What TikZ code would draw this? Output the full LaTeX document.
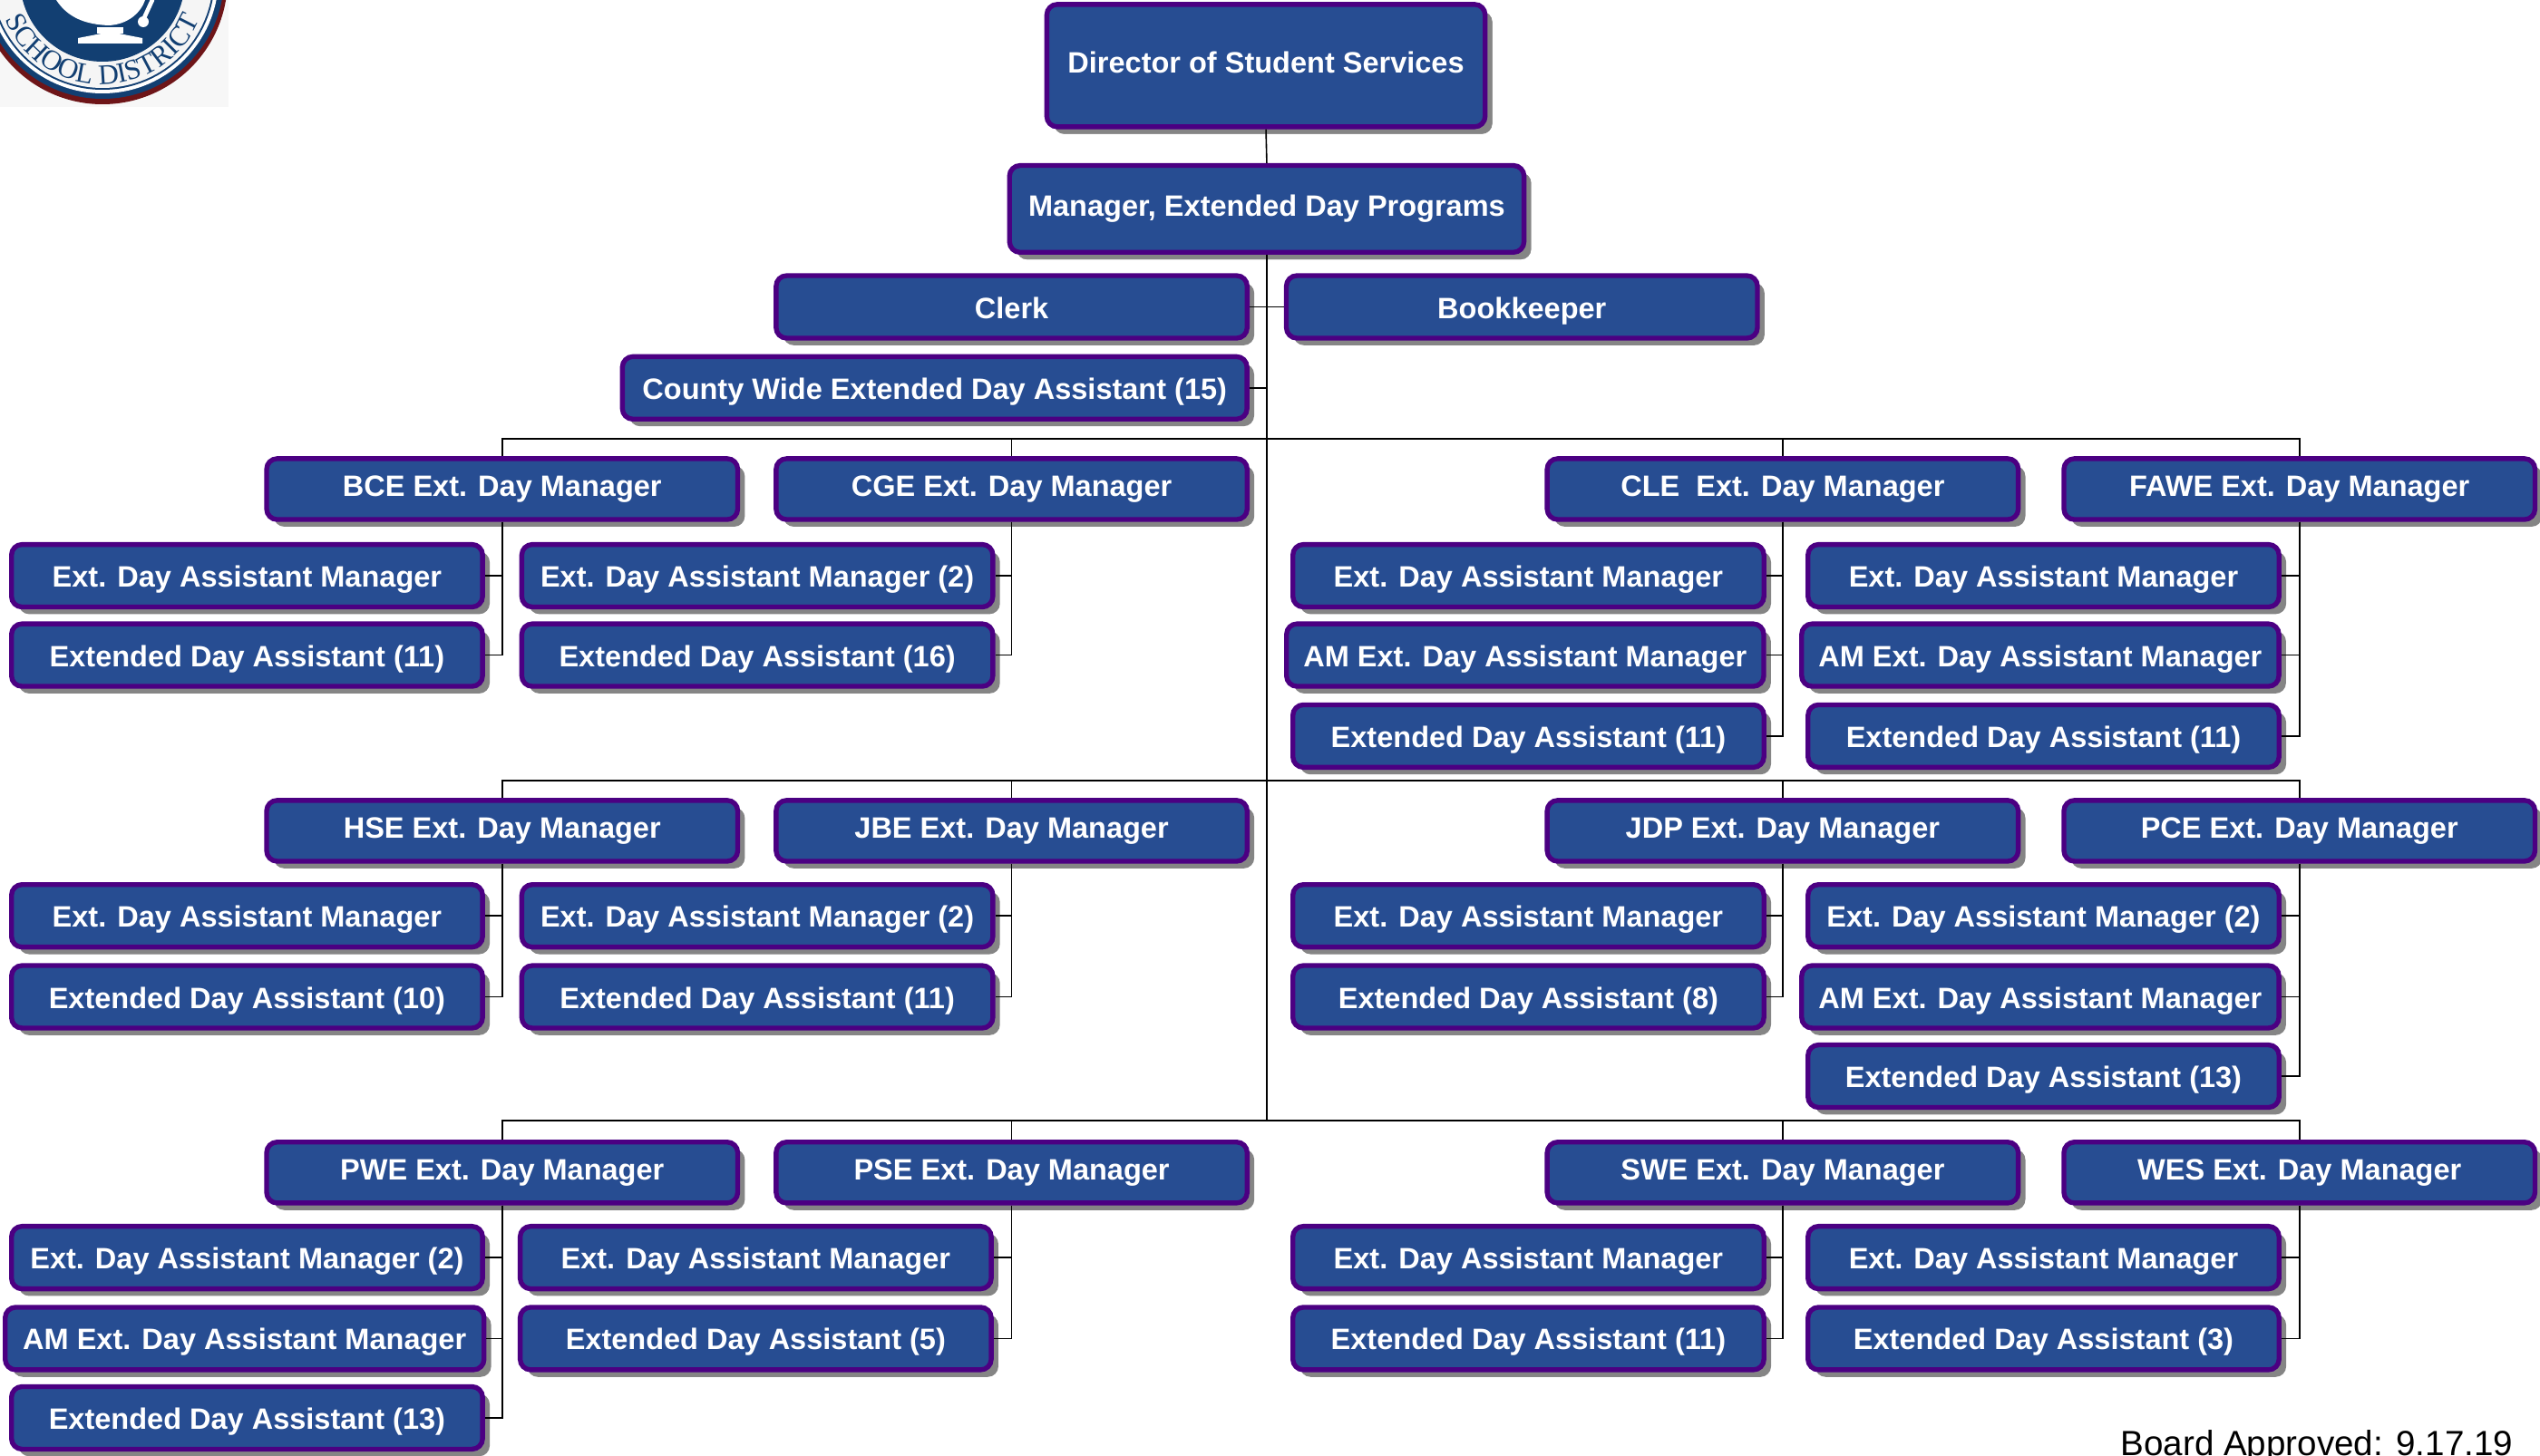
\documentclass[tikz,border=0pt]{standalone}
\usepackage{fontspec}
\setmainfont{Liberation Sans}
\newfontfamily\sealfont{Liberation Serif}
\usetikzlibrary{shadows,decorations.text}
\definecolor{boxfill}{HTML}{274D92}
\definecolor{boxline}{HTML}{4B0082}
\definecolor{boxshadow}{HTML}{858585}
\definecolor{sealblue}{HTML}{123F72}
\definecolor{sealred}{HTML}{6E1518}
\tikzset{
  orgbox/.style={draw=boxline,fill=boxfill,line width=3pt,rounded corners=6.5pt,
    text=white,font=\fontsize{18.2}{20}\selectfont\bfseries,inner sep=0pt,align=center,
    text height=14pt,text depth=0pt,
    drop shadow={shadow xshift=4.4pt,shadow yshift=-4.4pt,fill=boxshadow,opacity=1}},
  wide/.style={orgbox,minimum width=290.8pt,minimum height=38.6pt},
  mgrbox/.style={orgbox,minimum width=290.8pt,minimum height=37.6pt,text height=13pt,text depth=4pt},
  tallbox/.style={orgbox,text height=13pt,text depth=4pt},
  conn/.style={draw=black,line width=0.9pt},
}
\begin{document}
\begin{tikzpicture}[x=1pt,y=-1pt]
\useasboundingbox (0,0) rectangle (1568,899);
% seal
\begin{scope}
\clip (0,0) rectangle (1568,899);
\fill[black!3] (0,0) rectangle (141,66);
\begin{scope}[x=0.5598pt,y=-0.5598pt]
\coordinate (sealc) at (113,-23);
\fill[sealred] (sealc) circle[radius=138];
\fill[sealblue] (113,-25) circle[radius=134];
\fill[white] (113,-25) circle[radius=128];
\fill[sealblue] (113,-25) circle[radius=124];
\fill[white!96!black] (113,-25) circle[radius=122];
\fill[sealblue] (113,-23) circle[radius=91];
\fill[white] (62,0) .. controls (75,20) and (95,27) .. (120,28) .. controls (140,27) and (155,15) .. (160,0) -- cycle;
\fill[white] (107,30) -- (136,30) -- (136,37) -- (107,37) -- cycle;
\fill[white] (86,42) -- (112,37) -- (131,37) -- (157,42) -- (157,48) -- (86,48) -- cycle;
\draw[white,line width=2.6pt,line cap=round] (168,0) -- (157,24);
\fill[white] (158,24) circle[radius=6];
\path[decorate,decoration={text along path,text align=center,
  text={|\fontsize{17.5}{17.5}\sealfont\color{sealblue}|SCHOOL DISTRICT}}]
  (sealc) ++(160:116) arc[start angle=160,end angle=20,radius=116];
\end{scope}
\end{scope}
% boxes
\node[orgbox,tallbox,minimum width=270.6pt,minimum height=75.6pt] (dir) at (781.5,40.5) {Director of Student Services};
\node[orgbox,tallbox,minimum width=317.6pt,minimum height=53.6pt] (mgr) at (782,129) {Manager, Extended Day Programs};
\node[wide] (clerk) at (624.5,189.5) {Clerk};
\node[wide] (book) at (939.5,189.5) {Bookkeeper};
\node[orgbox,minimum width=385.6pt,minimum height=38.6pt] (county) at (577,239.5) {County Wide Extended Day Assistant (15)};
\coordinate (bus1) at (782,271);
\coordinate (bus2) at (782,482);
\coordinate (bus3) at (782,692);
% group 1
\node[mgrbox] (bce) at (310,302) {BCE Ext. Day Manager};
\node[mgrbox] (cge) at (624.5,302) {CGE Ext. Day Manager};
\node[mgrbox] (cle) at (1100.5,302) {CLE\ \ Ext. Day Manager};
\node[mgrbox] (fawe) at (1419.5,302) {FAWE Ext. Day Manager};
\node[wide] (bcea) at (152.5,355.5) {Ext. Day Assistant Manager};
\node[wide] (bceb) at (152.5,404.5) {Extended Day Assistant (11)};
\node[wide] (cgea) at (467.5,355.5) {Ext. Day Assistant Manager (2)};
\node[wide] (cgeb) at (467.5,404.5) {Extended Day Assistant (16)};
\node[wide] (clea) at (943.5,355.5) {Ext. Day Assistant Manager};
\node[orgbox,minimum width=294.6pt,minimum height=38.6pt] (cleb) at (941.5,404.5) {AM Ext. Day Assistant Manager};
\node[wide] (clec) at (943.5,454.5) {Extended Day Assistant (11)};
\node[wide] (fawea) at (1261.5,355.5) {Ext. Day Assistant Manager};
\node[orgbox,minimum width=294.6pt,minimum height=38.6pt] (faweb) at (1259.5,404.5) {AM Ext. Day Assistant Manager};
\node[wide] (fawec) at (1261.5,454.5) {Extended Day Assistant (11)};
% group 2
\node[mgrbox] (hse) at (310,513) {HSE Ext. Day Manager};
\node[mgrbox] (jbe) at (624.5,513) {JBE Ext. Day Manager};
\node[mgrbox] (jdp) at (1100.5,513) {JDP Ext. Day Manager};
\node[mgrbox] (pce) at (1419.5,513) {PCE Ext. Day Manager};
\node[wide] (hsea) at (152.5,565.5) {Ext. Day Assistant Manager};
\node[wide] (hseb) at (152.5,615.5) {Extended Day Assistant (10)};
\node[wide] (jbea) at (467.5,565.5) {Ext. Day Assistant Manager (2)};
\node[wide] (jbeb) at (467.5,615.5) {Extended Day Assistant (11)};
\node[wide] (jdpa) at (943.5,565.5) {Ext. Day Assistant Manager};
\node[wide] (jdpb) at (943.5,615.5) {Extended Day Assistant (8)};
\node[wide] (pcea) at (1261.5,565.5) {Ext. Day Assistant Manager (2)};
\node[orgbox,minimum width=294.6pt,minimum height=38.6pt] (pceb) at (1259.5,615.5) {AM Ext. Day Assistant Manager};
\node[wide] (pcec) at (1261.5,664.5) {Extended Day Assistant (13)};
% group 3
\node[mgrbox] (pwe) at (310,724) {PWE Ext. Day Manager};
\node[mgrbox] (pse) at (624.5,724) {PSE Ext. Day Manager};
\node[mgrbox] (swe) at (1100.5,724) {SWE Ext. Day Manager};
\node[mgrbox] (wes) at (1419.5,724) {WES Ext. Day Manager};
\node[wide] (pwea) at (152.5,776.5) {Ext. Day Assistant Manager (2)};
\node[orgbox,minimum width=295.6pt,minimum height=38.6pt] (pweb) at (151,826.5) {AM Ext. Day Assistant Manager};
\node[wide] (pwec) at (152.5,875.5) {Extended Day Assistant (13)};
\node[wide] (psea) at (466.5,776.5) {Ext. Day Assistant Manager};
\node[wide] (pseb) at (466.5,826.5) {Extended Day Assistant (5)};
\node[wide] (swea) at (943.5,776.5) {Ext. Day Assistant Manager};
\node[wide] (sweb) at (943.5,826.5) {Extended Day Assistant (11)};
\node[wide] (wesa) at (1261.5,776.5) {Ext. Day Assistant Manager};
\node[wide] (wesb) at (1261.5,826.5) {Extended Day Assistant (3)};
\node[anchor=base east,inner sep=0pt,font=\fontsize{21.6}{24}\selectfont] (board) at (1551.5,898.5) {Board Approved: 9.17.19};
% connectors
\draw[conn] (dir.south) -- (mgr.north);
\draw[conn] (mgr.south) -- (bus3);
\draw[conn] (clerk.east) -- (book.west);
\draw[conn] (county.east) -- (county.east -| bus1);
\draw[conn] (bce.north) |- (bus1) -| (fawe.north);
\draw[conn] (cge.north) |- (bus1);
\draw[conn] (cle.north) |- (bus1);
\draw[conn] (hse.north) |- (bus2) -| (pce.north);
\draw[conn] (jbe.north) |- (bus2);
\draw[conn] (jdp.north) |- (bus2);
\draw[conn] (pwe.north) |- (bus3) -| (wes.north);
\draw[conn] (pse.north) |- (bus3);
\draw[conn] (swe.north) |- (bus3);
\foreach \m/\s in {bce/bcea,bce/bceb,cge/cgea,cge/cgeb,cle/clea,cle/cleb,cle/clec,
  fawe/fawea,fawe/faweb,fawe/fawec,hse/hsea,hse/hseb,jbe/jbea,jbe/jbeb,jdp/jdpa,jdp/jdpb,
  pce/pcea,pce/pceb,pce/pcec,pwe/pwea,pwe/pweb,pwe/pwec,pse/psea,pse/pseb,swe/swea,swe/sweb,
  wes/wesa,wes/wesb}
  \draw[conn] (\m.south) |- (\s.east);
\end{tikzpicture}
\end{document}
